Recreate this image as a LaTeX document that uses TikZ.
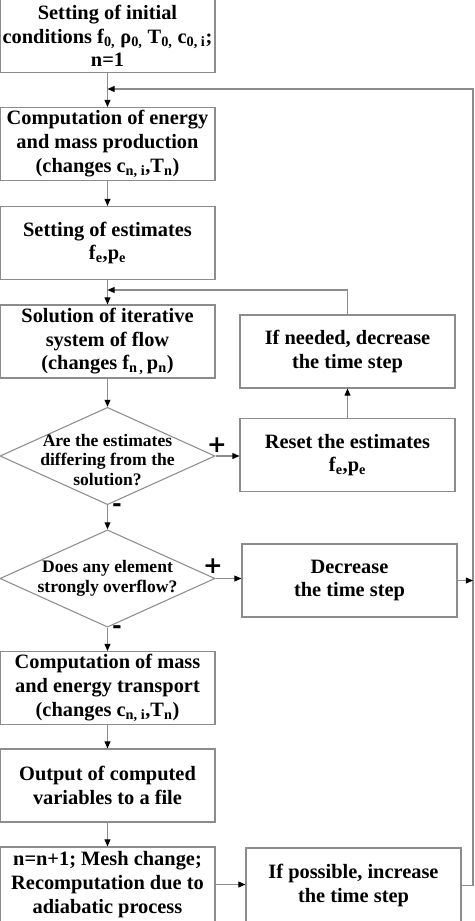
\documentclass[tikz,border=0pt]{standalone}
\usepackage{fontspec}
\setmainfont{Liberation Serif}
\newfontfamily\signfont{DejaVu Serif}
\usetikzlibrary{shapes.geometric,arrows.meta,positioning}
\definecolor{linegray}{RGB}{140,140,140}

\begin{document}
\begin{tikzpicture}[x=0.03cm, y=-0.03cm, >={Triangle[length=6pt,width=5pt,color=black]},
    box/.style={draw=linegray, line width=0.9pt, minimum width=6.45cm, minimum height=2.19cm, inner sep=0pt, align=center, font=\fontsize{17.4}{20.2}\selectfont\bfseries},
    decision/.style={diamond, draw=linegray, line width=0.9pt, minimum width=6.45cm, minimum height=2.92cm, inner sep=0pt},
    dtext/.style={align=center, inner sep=0pt, font=\fontsize{15}{16.8}\selectfont\bfseries},
    link/.style={draw=linegray, line width=0.9pt},
    sign/.style={inner sep=0pt, font=\signfont\fontsize{20}{20}\selectfont\bfseries}]
 \useasboundingbox (0,0) rectangle (474,921);
 \node[box] (init) at (107.5,36) {Setting of initial\\conditions f\textsubscript{0,} ρ\textsubscript{0,} T\textsubscript{0,} c\textsubscript{0, i};\\n=1};
 \node[box] (prod) at (107.5,144) {Computation of energy\\and mass production\\(changes c\textsubscript{n, i},T\textsubscript{n})};
 \node[box] (est) at (107.5,243) {Setting of estimates\\f\textsubscript{e},p\textsubscript{e}};
 \node[box] (solve) at (107.5,341.5) {Solution of iterative\\system of flow\\(changes f\textsubscript{n\,,}\,p\textsubscript{n})};
 \node[decision, label={[dtext, yshift=-0.12cm]center:Are the estimates\\differing from the\\solution?}] (diff) at (107.5,456) {};
 \node[box] (reset) at (347.5,455) {Reset the estimates\\f\textsubscript{e},p\textsubscript{e}};
 \node[box] (need) at (347.5,351.5) {If needed, decrease\\the time step};
 \node[decision, label={[dtext]center:Does any element\\strongly overflow?}] (over) at (107.5,578.5) {};
 \node[box] (decr) at (349.5,580.5) {Decrease\\the time step};
 \node[box] (trans) at (107.5,688) {Computation of mass\\and energy transport\\(changes c\textsubscript{n, i},T\textsubscript{n})};
 \node[box] (out) at (107.5,785.5) {Output of computed\\variables to a file};
 \node[box, minimum height=2.25cm] (mesh) at (107.5,884.5) {n=n+1; Mesh change;\\Recomputation due to\\adiabatic process};
 \node[box, minimum height=2.25cm] (incr) at (353.5,885.5) {If possible, increase\\the time step};

 \node[sign] (plus1) at (217,445) {+};
 \node[sign] (minus1) at (117,508) {-};
 \node[sign] (plus2) at (213,566) {+};
 \node[sign] (minus2) at (117,630) {-};

 \draw[link,->] (init) -- (prod);
 \draw[link,->] (prod) -- (est);
 \draw[link,->] (est) -- (solve);
 \draw[link,->] (solve) -- (diff);
 \draw[link,->] (diff) -- (over);
 \draw[link,->] (over) -- (trans);
 \draw[link,->] (trans) -- (out);
 \draw[link,->] (out) -- (mesh);
 \draw[link,->] (diff.east) -- (diff.east -| reset.west);
 \draw[link,->] (over.east) -- (over.east -| decr.west);
 \draw[link,->] (mesh.east) -- (mesh.east -| incr.west);
 \draw[link,->] (reset) -- (need);

 % loops back
 \coordinate (back) at (347.5,290);
 \draw[link,->] (need.north) -- (back) -- (back -| solve.north);
 \coordinate (rtop) at (473,89);
 \coordinate (rbot) at (473,885.5);
 \draw[link,->] (incr.east) -- (rbot) -- (rtop) -- (rtop -| init.south);
 \draw[link,->] (decr.east) -- (decr.east -| rbot);
\end{tikzpicture}
\end{document}
